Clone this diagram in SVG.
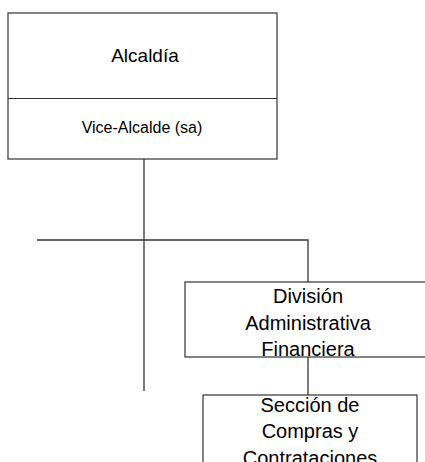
<svg xmlns="http://www.w3.org/2000/svg" width="425" height="462" viewBox="0 0 425 462">
<style>
.box{fill:#fff;stroke:#333;stroke-width:1.2}
.con{fill:none;stroke:#333;stroke-width:1.3}
text{font-family:"Liberation Sans",Arial,sans-serif;fill:#000;text-anchor:middle}
.big{font-size:20px}
.mid{font-size:16px}
</style>
<rect width="425" height="462" fill="#fff"/>
<g id="connectors">
<line class="con" x1="144" y1="159" x2="144" y2="391"/>
<polyline class="con" points="37,240 308,240 308,282"/>
<line class="con" x1="308" y1="357" x2="308" y2="395"/>
</g>
<g id="alcaldia">
<rect class="box" x="8" y="13" width="269" height="146"/>
<line class="box" x1="8" y1="98.5" x2="277" y2="98.5"/>
<text class="big" x="145" y="62" style="font-size:19px">Alcaldía</text>
<text class="mid" x="142" y="133">Vice-Alcalde (sa)</text>
</g>
<g id="division">
<rect class="box" x="185" y="282" width="245" height="75"/>
<text class="big" x="308" y="302.5">División</text>
<text class="big" x="308" y="329.5">Administrativa</text>
<text class="big" x="308" y="355.5">Financiera</text>
</g>
<g id="seccion">
<rect class="box" x="203" y="395" width="214" height="80"/>
<text class="big" x="310" y="411.5">Sección de</text>
<text class="big" x="310" y="438">Compras y</text>
<text class="big" x="310" y="464.5">Contrataciones</text>
</g>
</svg>
